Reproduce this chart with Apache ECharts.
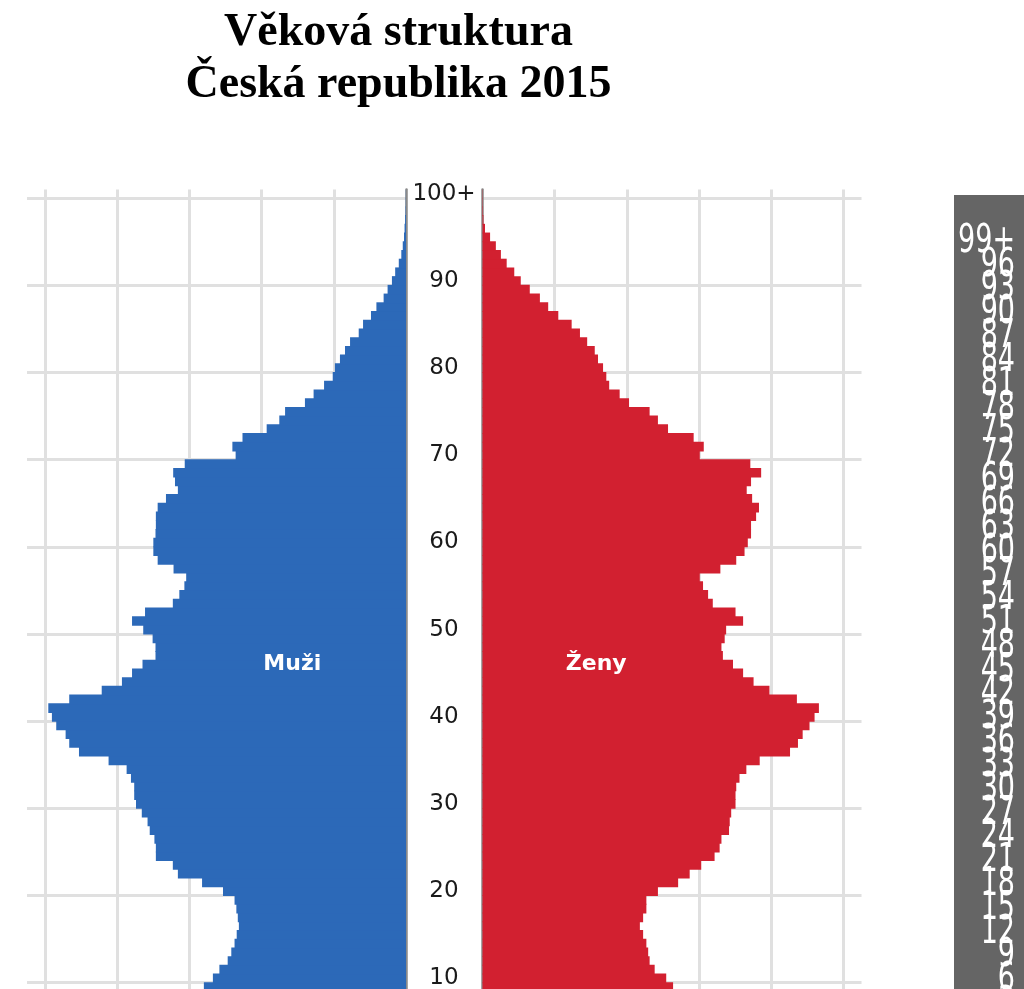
<!DOCTYPE html>
<html>
<head>
<meta charset="utf-8">
<script src="https://cdn.jsdelivr.net/npm/echarts@6/dist/echarts.min.js"></script>
<style>
  html,body{margin:0;padding:0;background:#fff;overflow:hidden}
  #chart{width:1024px;height:989px}
</style>
</head>
<body>
<div id="chart"></div>
<script>
// věk 0..100+ (index = věk)
const ages = Array.from({length:101}, (_, i) => i === 100 ? '100+' : String(i))

// muži, počet osob podle věku 0..100+
const muzi = [
  56000, 56500, 55000, 56000, 56000, 60500, 61000, 61500, 59000, 56000,
  53500, 51700, 49400, 48400, 47500, 46900, 46300, 46600, 47000, 47500,
  50700, 56500, 63200, 64600, 69300, 69300, 69700, 71000, 71600, 73200,
  74800, 75300, 75300, 76200, 77400, 82400, 90600, 93300, 94300, 96900,
  98100, 99100, 93300, 84300, 78700, 75900, 73000, 69400, 69400, 70200,
  72800, 75900, 72300, 64600, 62800, 61400, 60900, 64400, 68800, 70000,
  70000, 69400, 69300, 69300, 68800, 66500, 63200, 64000, 64500, 61300,
  47200, 48100, 45300, 38600, 35100, 33500, 28000, 25600, 22700, 20300,
  19700, 18300, 16900, 15500, 13100, 11900, 9700, 8200, 6200, 5100,
  3900, 3000, 2000, 1300, 900, 550, 400, 250, 120, 60,
  40
]

// ženy, počet osob podle věku 0..100+
const zeny = [
  53000, 53500, 52000, 53000, 53000, 57000, 57500, 58000, 56000, 52800,
  50900, 47700, 46300, 45900, 45400, 44500, 43600, 44500, 45400, 45400,
  48600, 54200, 57400, 60600, 64300, 65700, 66200, 68300, 68500, 68900,
  70100, 70100, 70300, 71200, 73100, 76800, 85200, 87400, 88700, 90600,
  92000, 93200, 87100, 79500, 75100, 72200, 69400, 66600, 66200, 67100,
  67500, 72200, 70100, 63800, 62500, 61100, 60200, 65900, 70300, 72600,
  73500, 74400, 74400, 75800, 76600, 74700, 73200, 74400, 77200, 74200,
  60200, 61300, 58500, 51400, 48600, 46300, 40600, 38000, 35100, 34300,
  33400, 32000, 31100, 29000, 27000, 24700, 21000, 18200, 15900, 13100,
  10600, 8800, 6700, 5100, 3700, 2100, 700, 250, 150, 100,
  80
]

// šedý pruh vpravo: popisky po třech letech
const pruhLabels = ['0','3','6','9','12','15','18','21','24','27','30','33','36','39','42','45','48',
  '51','54','57','60','63','66','69','72','75','78','81','84','87','90','93','96','99+']

const BLUE = '#2c69b8', RED = '#d22030', GRID = '#e0e0e0', AXIS = '#8a8a8a'
const every10 = (i) => i % 10 === 0

const chart = echarts.init(document.getElementById('chart'), null, {renderer:'canvas'})

const xCommon = {
  type:'value', min:0, max:105000, interval:20000,
  axisLine:{show:false}, axisTick:{show:false}, axisLabel:{show:false},
  splitLine:{show:true, showMinLine:false, showMaxLine:false, lineStyle:{color:GRID, width:3}}
}
const yCommon = {
  type:'category', data:ages, boundaryGap:true,
  axisTick:{show:false},
  axisLine:{show:true, lineStyle:{color:AXIS, width:2.5}},
  splitLine:{show:true, interval:every10, showMaxLine:false, lineStyle:{color:GRID, width:3}}
}
const barLabel = {
  show:true, position:'inside', formatter:'{b}', color:'#fff',
  fontFamily:'DejaVu Sans', fontWeight:'bold', fontSize:22
}
// grid smí přesahovat dolní okraj (spodek pyramidy je v obrázku oříznutý)
const gridBase = {outerBoundsMode:'none', containLabel:false}
// pruhy o kousek vyšší než pásmo kategorie, aby mezi nimi nebyly světlé švy
const BAR_W = 9.6

chart.setOption({
  animation:false,
  backgroundColor:'#fff',
  graphic:[
    {type:'text', x:398.5, y:33, style:{text:'Věková struktura', fill:'#000',
      font:'bold 46px "Liberation Serif", "Times New Roman", serif', align:'center', verticalAlign:'middle'}},
    {type:'text', x:398.5, y:85, style:{text:'Česká republika 2015', fill:'#000',
      font:'bold 46px "Liberation Serif", "Times New Roman", serif', align:'center', verticalAlign:'middle'}},
    {type:'rect', shape:{x:954, y:195, width:80, height:900}, style:{fill:'#656565'}, z:-10}
  ],
  grid:[
    Object.assign({left:27, width:379, top:189.4, height:880.5}, gridBase),
    Object.assign({left:482.5, width:379, top:189.4, height:880.5}, gridBase),
    Object.assign({left:954, width:61, top:229.8, height:809.9}, gridBase)
  ],
  xAxis:[
    Object.assign({gridIndex:0, inverse:true}, xCommon),
    Object.assign({gridIndex:1}, xCommon),
    {gridIndex:2, type:'value', min:0, max:1, show:false}
  ],
  yAxis:[
    Object.assign({}, yCommon, {gridIndex:0, position:'right', offset:1.5,
      axisLabel:{show:true, interval:every10, align:'center', margin:36.5,
        color:'#1a1a1a', fontFamily:'DejaVu Sans', fontSize:23}}),
    Object.assign({}, yCommon, {gridIndex:1, position:'left', offset:1.5, axisLabel:{show:false}}),
    {gridIndex:2, type:'category', data:pruhLabels, show:false}
  ],
  series:[
    {name:'Muži', type:'bar', xAxisIndex:0, yAxisIndex:0, data:muzi,
      barWidth:BAR_W, silent:true, itemStyle:{color:BLUE},
      markPoint:{symbol:'circle', symbolSize:1, itemStyle:{color:'rgba(0,0,0,0)'},
        label:barLabel, data:[{name:'Muži', coord:[31500, '46']}]}},
    {name:'Ženy', type:'bar', xAxisIndex:1, yAxisIndex:1, data:zeny,
      barWidth:BAR_W, silent:true, itemStyle:{color:RED},
      markPoint:{symbol:'circle', symbolSize:1, itemStyle:{color:'rgba(0,0,0,0)'},
        label:barLabel, data:[{name:'Ženy', coord:[31500, '46']}]}},
    {name:'pruh', type:'custom', xAxisIndex:2, yAxisIndex:2, silent:true,
      data:pruhLabels.map((l, i) => [1, i]),
      renderItem:(params, api) => {
        const p = api.coord([api.value(0), api.value(1)])
        return {type:'text', x:p[0], y:p[1], scaleX:0.9, scaleY:1.3,
          style:{text:pruhLabels[params.dataIndex], fill:'#fff',
            font:'30px "DejaVu Sans"', align:'right', verticalAlign:'middle'}}
      }}
  ]
})
</script>
</body>
</html>
